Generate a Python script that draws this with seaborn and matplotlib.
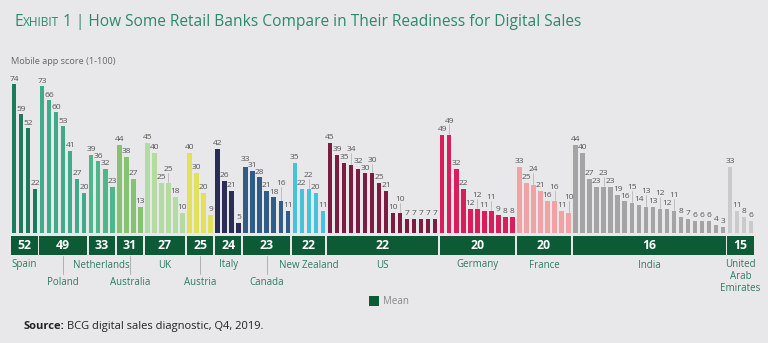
import matplotlib
matplotlib.use("Agg")
import matplotlib.pyplot as plt
from matplotlib.patches import Rectangle
import numpy as np
import pandas as pd
import seaborn as sns

# ---- data -------------------------------------------------------------
countries = ["Spain", "Poland", "Netherlands", "Australia", "UK", "Austria", "Italy",
             "Canada", "New Zealand", "US", "Germany", "France", "India",
             "United Arab Emirates"]
country_labels = ["Spain", "Poland", "Netherlands", "Australia", "UK", "Austria", "Italy",
                  "Canada", "New Zealand", "US", "Germany", "France", "India",
                  "United\nArab\nEmirates"]
label_row = [0, 1, 0, 1, 0, 1, 0, 1, 0, 0, 0, 0, 0, 0]
means = [52, 49, 33, 31, 27, 25, 24, 23, 22, 22, 20, 20, 16, 15]

spain = [74, 59, 52, 22]
poland = [73, 66, 60, 53, 41, 27, 20]
netherlands = [39, 36, 32, 23]
australia = [44, 38, 27, 13]
uk = [45, 40, 25, 25, 18, 10]
austria = [40, 30, 20, 9]
italy = [42, 26, 21, 5]
canada = [33, 31, 28, 21, 18, 16, 11]
new_zealand = [35, 22, 22, 20, 11]
us = [45, 39, 35, 34, 32, 30, 30, 25, 21, 10, 10, 7, 7, 7, 7, 7]
germany = [49, 49, 32, 22, 12, 12, 11, 11, 9, 8, 8]
france = [33, 25, 24, 21, 16, 16, 11, 10]
india = [44, 40, 27, 23, 23, 23, 19, 16, 15, 14, 13, 13, 12, 12, 11, 8, 7, 6, 6, 6, 4, 3]
uae = [33, 11, 8, 6]

scores_by_country = [spain, poland, netherlands, australia, uk, austria, italy,
                     canada, new_zealand, us, germany, france, india, uae]

bar_colors = ["#1d7a5a", "#3fab8a", "#4fb68a", "#86c36f", "#b4dba1", "#e2e25a", "#2b2d57",
              "#2f5d88", "#45c2dc", "#7c1c40", "#d91f5b", "#f0a2a5", "#a4a4a4", "#cacaca"]

# ---- styling ----------------------------------------------------------
BG = "#e8e8ea"
DARK_GREEN = "#0d5a37"
TITLE_GREEN = "#2b8a68"
LABEL_GREEN = "#2f7a5e"
FONT = "Open Sans"

sns.set_theme(style="white")
plt.rcParams["font.family"] = [FONT, "DejaVu Sans"]

rows = []
for c, vals in zip(countries, scores_by_country):
    for v in vals:
        rows.append({"country": c, "score": v})
df = pd.DataFrame(rows)
df["pos"] = np.arange(len(df))
N = len(df)

# pixel <-> data helpers (axes spans the whole canvas)
X0, DX = 14.0, 7.02          # first bar centre and bar pitch, px
Y0, DY = 233.0, 2.01         # baseline and px per score unit
W, H = 768, 343


def xd(px):
    return (px - X0) / DX


def yd(py):
    return (Y0 - py) / DY


fig = plt.figure(figsize=(W / 100, H / 100), dpi=100, facecolor=BG)
ax = fig.add_axes([0, 0, 1, 1])
ax.set_facecolor(BG)

sns.barplot(data=df, x="pos", y="score", hue="country", hue_order=countries,
            order=list(range(N)), palette=dict(zip(countries, bar_colors)),
            dodge=False, width=0.64, saturation=1, errorbar=None, legend=False,
            linewidth=0, ax=ax)

ax.set_xlim(xd(0), xd(W))
ax.set_ylim(yd(H), yd(0))
ax.axis("off")

# ---- value labels above bars (spread apart, leader line when lifted) ----
scores = list(df["score"])
tops = [Y0 - v * DY for v in scores]
label_y = [t - 5.0 for t in tops]
widths = [4.6 * len(str(v)) for v in scores]
lifted = [False] * N
SEP = 7.0
for i in range(1, N):
    if (widths[i] + widths[i - 1]) / 2 <= DX:
        continue
    d = label_y[i] - label_y[i - 1]
    if abs(d) < 3.6:
        label_y[i] = label_y[i - 1] - 8.5
        lifted[i] = True
    elif abs(d) < SEP:
        need = SEP - abs(d)
        if d > 0:
            down = min(need / 2, (tops[i] - 3.8) - label_y[i])
            down = max(down, 0)
            label_y[i] += down
            label_y[i - 1] -= need - down
        else:
            label_y[i] -= need

for i, v in enumerate(scores):
    if lifted[i]:
        ax.plot([i, i], [yd(tops[i] - 1.0), yd(label_y[i] + 3.4)],
                color="#b8b8b8", lw=0.6)
    ax.text(i, yd(label_y[i]), str(v), ha="center", va="center", fontsize=6.0,
            color="#555555")

# ---- mean boxes and country names -------------------------------------
start = 0
for k, (c, vals) in enumerate(zip(countries, scores_by_country)):
    first, last = start, start + len(vals) - 1
    start += len(vals)
    x_left, x_right = first - 0.37, last + 0.37
    ax.add_patch(Rectangle((x_left, yd(254.5)), x_right - x_left, yd(235.5) - yd(254.5),
                           facecolor=DARK_GREEN, edgecolor="none", zorder=3))
    cx = (first + last) / 2
    ax.text(cx, yd(245.2), str(means[k]), ha="center", va="center", fontsize=8.8,
            fontweight="bold", color="white", zorder=4)
    if k == len(countries) - 1:
        ax.text(cx, yd(259), country_labels[k], ha="center", va="top", fontsize=7,
                color=LABEL_GREEN, linespacing=1.15)
    elif label_row[k] == 0:
        ax.text(cx, yd(265), country_labels[k], ha="center", va="center", fontsize=7,
                color=LABEL_GREEN)
    else:
        ax.plot([cx, cx], [yd(255.5), yd(274)], color="#b0b0b0", lw=0.7)
        ax.text(cx, yd(282.5), country_labels[k], ha="center", va="center", fontsize=7,
                color=LABEL_GREEN)

# ---- legend -------------------------------------------------------------
ax.add_patch(Rectangle((xd(369), yd(306)), xd(379) - xd(369), yd(296) - yd(306),
                       facecolor=DARK_GREEN, edgecolor="none"))
ax.text(xd(383.5), yd(301.5), "Mean", ha="left", va="center", fontsize=7, color="#888888")

# ---- title, axis caption, source ----------------------------------------
fig.canvas.draw()
renderer = fig.canvas.get_renderer()
x_cur = 14
pieces = [("E", 11.2), ("XHIBIT", 8.6), (" 1 | How Some Retail Banks Compare in Their "
                                          "Readiness for Digital Sales", 11.2)]
for txt, size in pieces:
    t = fig.text(x_cur / W, 1 - 26 / H, txt, ha="left", va="baseline", fontsize=size,
                 color=TITLE_GREEN)
    bb = t.get_window_extent(renderer=renderer)
    x_cur = bb.x1

fig.text(11 / W, 1 - 61.5 / H, "Mobile app score (1-100)", ha="left", va="center",
         fontsize=6.6, color="#666666")

t = fig.text(23 / W, 1 - 329 / H, "Source:", ha="left", va="baseline", fontsize=8,
             fontweight="bold", color="#222222")
bb = t.get_window_extent(renderer=renderer)
fig.text((bb.x1 + 3) / W, 1 - 329 / H, "BCG digital sales diagnostic, Q4, 2019.",
         ha="left", va="baseline", fontsize=8, color="#222222")

fig.savefig("out.png", dpi=100, facecolor=BG)
